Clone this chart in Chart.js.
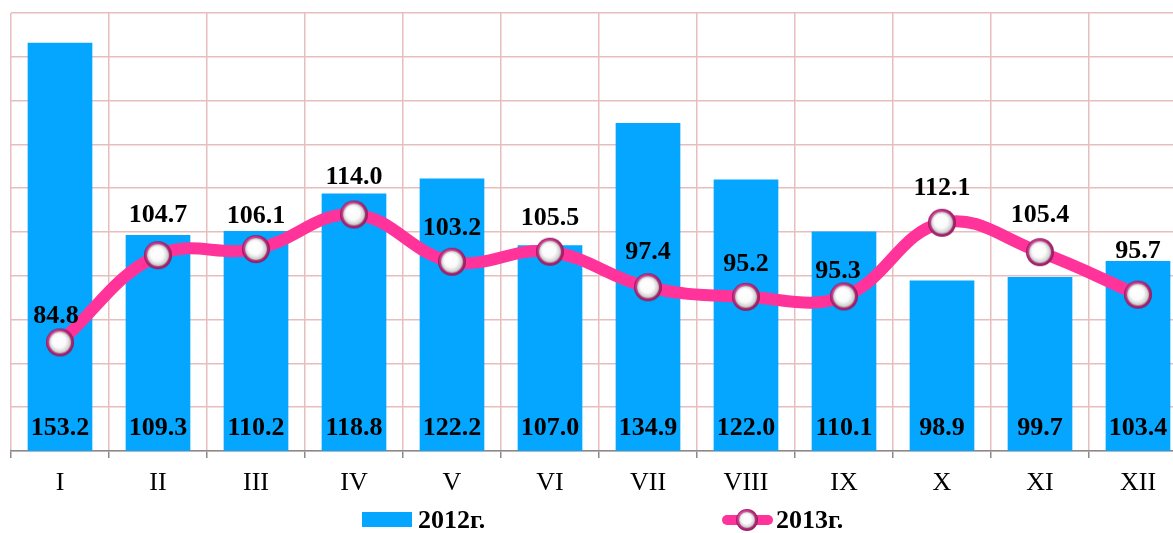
<!DOCTYPE html>
<html><head><meta charset="utf-8">
<script src="https://cdn.jsdelivr.net/npm/chart.js@4/dist/chart.umd.min.js"></script>
<style>
html,body{margin:0;padding:0;background:#fff;overflow:hidden;}
#wrap{width:1200px;height:533px;position:relative;}
</style></head><body>
<div id="wrap"><canvas id="c" width="1200" height="533"></canvas></div>
<script>
// ---- data ----
const categories = ['I','II','III','IV','V','VI','VII','VIII','IX','X','XI','XII'];
const values2012 = [153.2,109.3,110.2,118.8,122.2,107.0,134.9,122.0,110.1,98.9,99.7,103.4];
const values2013 = [84.8,104.7,106.1,114.0,103.2,105.5,97.4,95.2,95.3,112.1,105.4,95.7];
const seriesNames = ['2012г.','2013г.'];
const yMin = 60, yMax = 160, yStep = 10;
// label nudges for the 2013 values (style only)
const lineLabelDy = [-19,-33,-26,-30,-27,-27,-28,-26,-18,-28,-30,-37];
const lineLabelDx = [-4,0,0,0,0,0,0,0,-6,0,0,0];

const BLUE = '#04A6FF', PINK = '#FF3399', GRID = '#E8BDBD';
const SERIF = '"Liberation Serif","Times New Roman",serif';

function makeBall(r){
  const s = Math.ceil(r*2+2);
  const cv = document.createElement('canvas'); cv.width = s; cv.height = s;
  const g = cv.getContext('2d'); const c = s/2;
  let rg = g.createRadialGradient(c-r*0.3,c-r*0.35,r*0.2,c,c,r);
  rg.addColorStop(0,'#F77BBD'); rg.addColorStop(0.75,'#C8318A'); rg.addColorStop(1,'#8C1A58');
  g.fillStyle = rg; g.beginPath(); g.arc(c,c,r,0,Math.PI*2); g.fill();
  const ri = r-3;
  rg = g.createRadialGradient(c-ri*0.25,c-ri*0.35,ri*0.05,c,c,ri);
  rg.addColorStop(0,'#ffffff'); rg.addColorStop(0.6,'#fbfbfb'); rg.addColorStop(0.88,'#d6d6d6'); rg.addColorStop(1,'#a8a8a8');
  g.fillStyle = rg; g.beginPath(); g.arc(c,c,ri,0,Math.PI*2); g.fill();
  return cv;
}
const ball = makeBall(14);
const legendBall = makeBall(11);

const labelsPlugin = {
  id:'valueLabels',
  afterDatasetsDraw(chart){
    const ctx = chart.ctx;
    ctx.save();
    ctx.font = 'bold 26px ' + SERIF;
    ctx.fillStyle = '#000';
    ctx.textAlign = 'center';
    ctx.textBaseline = 'alphabetic';
    const barMeta = chart.getDatasetMeta(1);
    barMeta.data.forEach((el,i)=>{
      ctx.fillText(values2012[i].toFixed(1), el.x, chart.chartArea.bottom - 16);
    });
    const lineMeta = chart.getDatasetMeta(0);
    lineMeta.data.forEach((el,i)=>{
      ctx.fillText(values2013[i].toFixed(1), el.x + lineLabelDx[i], el.y + lineLabelDy[i]);
    });
    ctx.restore();
  }
};

const legendPlugin = {
  id:'customLegend',
  afterDraw(chart){
    const ctx = chart.ctx;
    ctx.save();
    const y = 520;
    ctx.fillStyle = BLUE;
    ctx.fillRect(362, y-8, 50, 15);
    ctx.strokeStyle = PINK; ctx.lineWidth = 10; ctx.lineCap = 'round';
    ctx.beginPath(); ctx.moveTo(727, y); ctx.lineTo(768, y); ctx.stroke();
    ctx.drawImage(legendBall, 747 - legendBall.width/2, y - legendBall.height/2);
    ctx.font = 'bold 26px ' + SERIF;
    ctx.fillStyle = '#000';
    ctx.textAlign = 'left'; ctx.textBaseline = 'middle';
    ctx.fillText(seriesNames[0], 418, y + 1);
    ctx.fillText(seriesNames[1], 776, y + 1);
    ctx.restore();
  }
};

new Chart(document.getElementById('c'), {
  type:'bar',
  data:{
    labels: categories,
    datasets:[
      {type:'line', label:seriesNames[1], data:values2013, borderColor:PINK, borderWidth:12,
       tension:0.4, pointStyle:ball, pointRadius:14, pointHoverRadius:14, order:0, fill:false},
      {type:'bar', label:seriesNames[0], data:values2012, backgroundColor:BLUE,
       barPercentage:0.66, categoryPercentage:1, order:1}
    ]
  },
  options:{
    responsive:false, animation:false, devicePixelRatio:1,
    layout:{autoPadding:false, padding:{left:11, right:13, top:13, bottom:37}},
    plugins:{legend:{display:false}, tooltip:{enabled:false}},
    scales:{
      x:{
        afterFit(scale){ scale.height = 45; },
        grid:{color:GRID, lineWidth:1.5, offset:true, tickLength:7, tickColor:'#8a8a8a', tickWidth:1.5},
        border:{color:'#8a8a8a', width:1.5},
        ticks:{font:{family:SERIF, size:26}, color:'#000', padding:10, maxRotation:0}
      },
      y:{
        afterFit(scale){ scale.width = 0; },
        min:yMin, max:yMax,
        ticks:{stepSize:yStep, display:false},
        grid:{color:GRID, lineWidth:1.5, drawTicks:false},
        border:{display:false}
      }
    }
  },
  plugins:[labelsPlugin, legendPlugin]
});
</script>
</body></html>
